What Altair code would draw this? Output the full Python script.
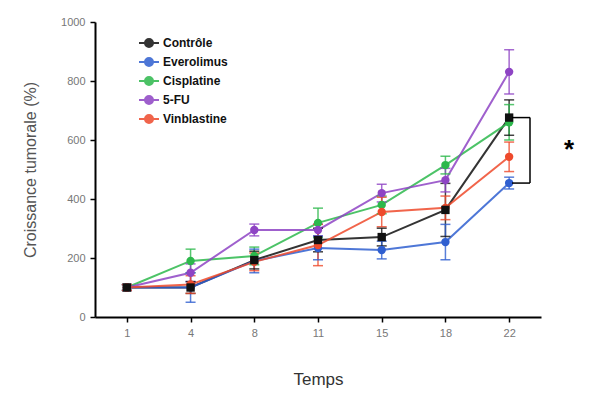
import altair as alt
import pandas as pd

days = ["1", "4", "8", "11", "15", "18", "22"]
series = ["Contrôle", "Everolimus", "Cisplatine", "5-FU", "Vinblastine"]
colors = ["#111111", "#2f5fd0", "#2db84c", "#8e44c4", "#ee4a2c"]

controle = [100, 100, 193, 261, 271, 363, 676]
everolimus = [100, 100, 190, 234, 227, 254, 454]
cisplatine = [100, 190, 207, 319, 380, 515, 660]
fu5 = [100, 150, 295, 295, 420, 464, 831]
vinblastine = [100, 110, 187, 244, 356, 370, 543]

err_controle = [10, 20, 30, 40, 30, 90, 60]
err_everolimus = [10, 50, 40, 40, 30, 60, 20]
err_cisplatine = [10, 40, 30, 50, 30, 30, 60]
err_fu5 = [10, 30, 20, 20, 30, 40, 75]
err_vinblastine = [10, 30, 30, 70, 50, 40, 50]

values = [controle, everolimus, cisplatine, fu5, vinblastine]
errs = [err_controle, err_everolimus, err_cisplatine, err_fu5, err_vinblastine]

rows = []
for s, vals, es in zip(series, values, errs):
    for d, v, e in zip(days, vals, es):
        rows.append({"day": d, "series": s, "value": v, "lo": v - e, "hi": v + e})
df = pd.DataFrame(rows)

xscale = alt.Scale(type="point", domain=days, padding=0.5)
xenc = alt.X("day:O", sort=days, scale=xscale,
             axis=alt.Axis(title="Temps", labelAngle=0, domainColor="#000", domainWidth=2,
                           tickColor="#000", tickWidth=1.5, tickSize=5, labelColor="#777",
                           labelFontSize=11, labelPadding=5, titleFontSize=17,
                           titleColor="#333", titleFontWeight="normal", titlePadding=33,
                           labelFont="Liberation Sans", titleFont="Liberation Sans"))
xplain = alt.X("day:O", sort=days, scale=xscale)
yscale = alt.Scale(domain=[0, 1000], nice=False)
yenc = alt.Y("value:Q", scale=yscale,
             axis=alt.Axis(title="Croissance tumorale (%)", values=[0, 200, 400, 600, 800, 1000],
                           format="d", grid=False, domainColor="#000", domainWidth=2,
                           tickColor="#000", tickWidth=1.5, tickSize=5, labelColor="#777",
                           labelFontSize=11, labelPadding=5, titleFontSize=16,
                           titleColor="#555", titleFontWeight="normal", titlePadding=22,
                           labelFont="Liberation Sans", titleFont="Liberation Sans"))

# legend marker: horizontal line with a (stroke-filled) dot on it
circle_path = ("M-1,0L1,0"
               "M-0.4,0A0.4,0.4,0,1,1,0.4,0A0.4,0.4,0,1,1,-0.4,0Z"
               "M-0.2,0A0.2,0.2,0,1,1,0.2,0A0.2,0.2,0,1,1,-0.2,0Z"
               "M-0.05,0A0.05,0.05,0,1,1,0.05,0A0.05,0.05,0,1,1,-0.05,0Z")
leg = alt.Legend(title=None, orient="none", legendX=43, legendY=10, symbolSize=400,
                 symbolStrokeWidth=2, labelFontSize=12, labelFontWeight="bold",
                 labelColor="#111", labelFont="Liberation Sans", labelOffset=3,
                 rowPadding=0, symbolType=circle_path)
color = alt.Color("series:N", scale=alt.Scale(domain=series, range=colors), legend=leg)
color_nl = alt.Color("series:N", scale=alt.Scale(domain=series, range=colors), legend=None)

base = alt.Chart(df)

lines = base.mark_line(strokeWidth=2, opacity=0.85).encode(x=xenc, y=yenc, color=color)
err_rules = base.mark_rule(strokeWidth=1.5, opacity=0.8).encode(
    x=xplain, y=alt.Y("lo:Q", scale=yscale), y2="hi:Q", color=color_nl)
cap_lo = base.mark_tick(thickness=1.5, size=10, orient="horizontal", opacity=0.8).encode(
    x=xplain, y=alt.Y("lo:Q", scale=yscale), color=color_nl)
cap_hi = base.mark_tick(thickness=1.5, size=10, orient="horizontal", opacity=0.8).encode(
    x=xplain, y=alt.Y("hi:Q", scale=yscale), color=color_nl)
points_other = base.transform_filter(alt.datum.series != series[0]).mark_point(
    filled=True, size=70, opacity=1, shape="circle").encode(
    x=xplain, y=alt.Y("value:Q", scale=yscale), color=color_nl)
points_ctrl = base.transform_filter(alt.datum.series == series[0]).mark_point(
    filled=True, size=70, opacity=1, shape="square").encode(
    x=xplain, y=alt.Y("value:Q", scale=yscale), color=color_nl)

top_v = controle[-1]
bot_v = everolimus[-1]
br = pd.DataFrame({"top": [top_v], "bot": [bot_v], "mid": [(top_v + bot_v) / 2]})
bracket_v = alt.Chart(br).mark_rule(color="#000", strokeWidth=1.5).encode(
    x=alt.value(435), y=alt.Y("top:Q", scale=yscale), y2="bot:Q")
bracket_t = alt.Chart(br).mark_rule(color="#000", strokeWidth=1.5).encode(
    x=alt.value(417), x2=alt.value(435), y=alt.Y("top:Q", scale=yscale))
bracket_b = alt.Chart(br).mark_rule(color="#000", strokeWidth=1.5).encode(
    x=alt.value(417), x2=alt.value(435), y=alt.Y("bot:Q", scale=yscale))
star = alt.Chart(br).mark_text(text="*", fontSize=26, fontWeight="bold", color="#000",
                               baseline="middle", font="Liberation Sans").encode(
    x=alt.value(474), y=alt.Y("mid:Q", scale=yscale))

chart = alt.layer(lines, err_rules, cap_lo, cap_hi, points_other, points_ctrl,
                  bracket_v, bracket_t, bracket_b, star).properties(
    width=446, height=295,
    autosize=alt.AutoSizeParams(type="none"),
    padding={"left": 87, "top": 14, "right": 40, "bottom": 78},
).configure(background="white").configure_view(stroke=None)

chart.save("out.html", embed_options={"renderer": "svg", "actions": False})
